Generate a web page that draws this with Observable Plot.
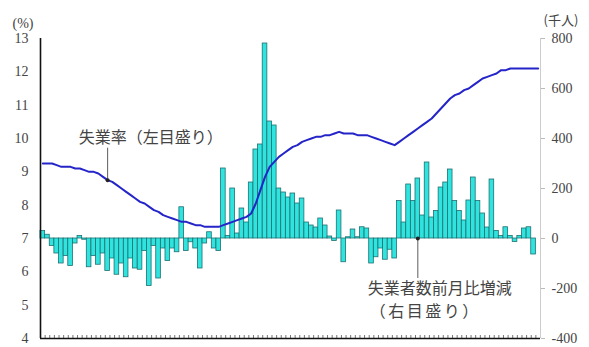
<!DOCTYPE html>
<html><head><meta charset="utf-8">
<script src="https://cdn.jsdelivr.net/npm/d3@7"></script>
<script src="https://cdn.jsdelivr.net/npm/@observablehq/plot@0.6"></script>
<style>body{margin:0;background:#fff} #chart{width:589px;height:347px}</style>
</head><body><div id="chart"></div>
<script>
// Unemployment rate (%), left scale, monthly
const rate = [
  9.25, 9.25, 9.25, 9.2, 9.15, 9.15, 9.15, 9.1, 9.1, 9.05,
  9.0, 9.0, 8.95, 8.85, 8.75, 8.7, 8.6, 8.5, 8.4, 8.3,
  8.2, 8.1, 8.05, 7.95, 7.85, 7.8, 7.7, 7.65, 7.6, 7.55,
  7.5, 7.5, 7.45, 7.4, 7.4, 7.35, 7.35, 7.35, 7.35, 7.4,
  7.45, 7.5, 7.55, 7.6, 7.65, 7.75, 8.05, 8.45, 8.85, 9.15,
  9.3, 9.45, 9.55, 9.65, 9.75, 9.8, 9.9, 9.95, 10.0, 10.05,
  10.05, 10.1, 10.1, 10.15, 10.2, 10.15, 10.15, 10.15, 10.1, 10.1,
  10.1, 10.05, 10.0, 9.95, 9.9, 9.85, 9.8, 9.9, 10.0, 10.1,
  10.2, 10.3, 10.4, 10.5, 10.6, 10.75, 10.9, 11.05, 11.2, 11.3,
  11.35, 11.45, 11.5, 11.6, 11.7, 11.8, 11.85, 11.9, 11.95, 12.05,
  12.05, 12.1, 12.1, 12.1, 12.1, 12.1, 12.1, 12.1
];
// Month-on-month change in unemployed (thousand persons), right scale
const change = [
  30, 15, -30, -60, -100, -70, -110, -20, 10, -5,
  -115, -70, -105, -60, -130, -80, -145, -100, -155, -80,
  -120, -125, -50, -190, -30, -160, -40, -90, -40, -55,
  125, -50, -15, -40, -120, -20, 25, -40, -50,
  280, 10, 200, 20, 120, 64, 224, 356, 376, 780,
  468, 452, 200, 184, 164, 180, 140, 160, 64, 52,
  44, 80, 52, 8, -10, 112,
  -95, 5, 36, 5, 45, 40, -100, -75, -40, -85,
  -45, -80, 150, 64, 216, 150, 240, 92, 304, 84,
  110, 204, 224, 276, 150, 110, 72, 152, 244, 150,
  100, 44, 236, 30, 10, 45, 10, -14, 10, 40,
  45, -64, 0
];
const leftTicks = [4, 5, 6, 7, 8, 9, 10, 11, 12, 13];
const rightTicks = [-400, -200, 0, 200, 400, 600, 800];
const leftUnit = "(%)";
const rightUnit = "(千人)";
const rateLabel = "失業率（左目盛り）";
const changeLabel1 = "失業者数前月比増減";
const changeLabel2 = "（右目盛り）";
const rateLabelMonth = 14;
const changeLabelMonth = 81;

const N = rate.length;
const months = d3.range(N);
// left scale 4–13 % maps onto right scale −400–800 thousand
const toRight = r => (r - 7) * 800 / 6;
const fromRight = v => Math.round(v * 6 / 800 + 7);
const data = months.map(i => ({i, rate: rate[i], change: change[i]}));

const serif = "'Liberation Serif', 'DejaVu Serif', serif";
const cjk = "'Noto Sans CJK JP', sans-serif";
const txt = "#444";

const p1 = data[rateLabelMonth];
const p2 = data[changeLabelMonth];

const plot = Plot.plot({
  width: 589, height: 347,
  marginLeft: 40, marginRight: 49, marginTop: 38, marginBottom: 9,
  style: {fontFamily: serif, fontSize: "14px", color: txt, background: "#fff", overflow: "visible"},
  x: {type: "linear", domain: [0, N], axis: null},
  y: {domain: [-400, 800], axis: null},
  marks: [
    Plot.rect(data.filter(d => d.change !== 0), {x1: "i", x2: d => d.i + 1, y1: 0, y2: "change", fill: "#2fe3df", stroke: "#1f7070", strokeWidth: 0.8}),
    Plot.line(data, {x: d => d.i + 0.5, y: d => toRight(d.rate), stroke: "#2424c8", strokeWidth: 2}),
    // axes
    Plot.axisY({ticks: leftTicks.map(toRight), anchor: "left", tickSize: 0, tickPadding: 12, tickFormat: fromRight, fontSize: 14, label: null, fill: txt}),
    Plot.axisY({ticks: rightTicks, anchor: "right", tickSize: 4, tickPadding: 7, tickFormat: d => d, fontSize: 14, label: null, stroke: "#bbb", fill: txt}),
    Plot.axisX({ticks: d3.range(N + 1), anchor: "bottom", tickSize: -3, tickFormat: () => "", stroke: "#777", label: null}),
    Plot.ruleX([N], {stroke: "#ccc", strokeWidth: 1}),
    Plot.ruleX([0], {stroke: "#111", strokeWidth: 1.6}),
    Plot.ruleY([-400], {stroke: "#111", strokeWidth: 1.6}),
    // units
    Plot.text([leftUnit], {frameAnchor: "top-left", dx: -28, dy: -20, textAnchor: "start", fontSize: 14, fill: txt}),
    Plot.text([rightUnit], {frameAnchor: "top-right", dx: 3, dy: -23, textAnchor: "start", fontSize: 13, fill: txt, fontFamily: cjk}),
    // annotation: rate
    Plot.ruleX([p1], {x: d => d.i + 0.5, y1: d => toRight(d.rate), y2: d => toRight(d.rate), insetTop: -32, stroke: "#333", strokeWidth: 0.8}),
    Plot.dot([p1], {x: d => d.i + 0.5, y: d => toRight(d.rate), r: 2, fill: "#222"}),
    Plot.text([p1], {x: d => d.i + 0.5, y: d => toRight(d.rate), text: () => rateLabel, dx: -29, dy: -42, textAnchor: "start", fontFamily: cjk, fontSize: 16, fill: txt}),
    // annotation: change
    Plot.ruleX([p2], {x: d => d.i + 0.5, y1: 0, y2: 0, insetBottom: -40, stroke: "#333", strokeWidth: 0.8}),
    Plot.dot([p2], {x: d => d.i + 0.5, y: 0, r: 2, fill: "#222"}),
    Plot.text([p2], {x: d => d.i + 0.5, y: 0, text: () => changeLabel1, dx: -50, dy: 50, textAnchor: "start", fontFamily: cjk, fontSize: 16, fill: txt}),
    Plot.text([p2], {x: d => d.i + 0.5, y: 0, text: () => changeLabel2, dx: -48, dy: 73, textAnchor: "start", fontFamily: cjk, fontSize: 16, fill: txt})
  ]
});
d3.select(plot).selectAll("text").filter(function () { return this.textContent === changeLabel2; }).style("letter-spacing", "2.5px");
document.getElementById("chart").appendChild(plot);
</script>
</body></html>
